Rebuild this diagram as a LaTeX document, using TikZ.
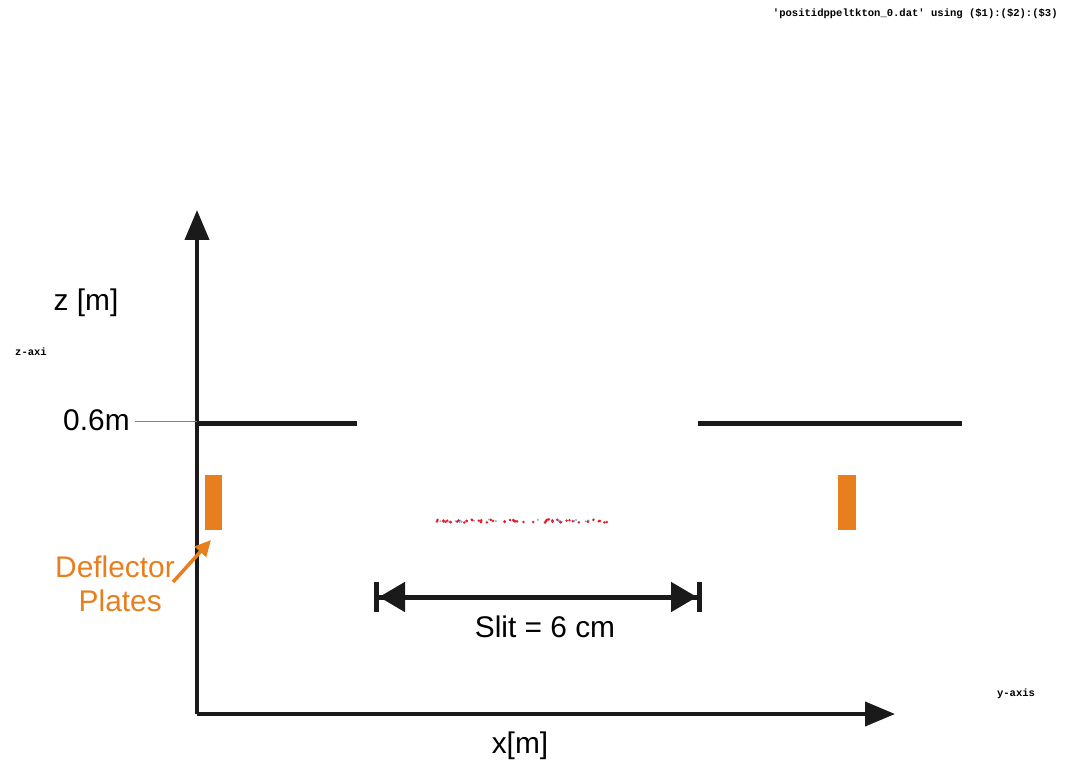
\documentclass[tikz,border=0pt]{standalone}
\usepackage{fontspec}
\setmainfont{Liberation Sans}
\setmonofont{Liberation Mono}
\definecolor{DPOrange}{HTML}{E87F1E}
\definecolor{DPBlack}{HTML}{1A1A1A}
\definecolor{DPRed}{HTML}{E0202A}
\definecolor{DPBlue}{HTML}{7FA8D8}
\usetikzlibrary{positioning,arrows.meta}

\begin{document}
\begin{tikzpicture}[x=0.02cm, y=-0.02cm,
    every node/.style={font=\fontsize{17}{19}\selectfont, inner sep=0pt},
    axis/.style={draw=DPBlack, line width=0.08cm, -{Triangle[length=0.6cm, width=0.48cm]}},
    plate/.style={draw=DPBlack, line width=0.1cm},
    deflector/.style={fill=DPOrange, draw=none},
    gplabel/.style={font=\ttfamily\bfseries\fontsize{6}{7}\selectfont}]
    \useasboundingbox (0,0) rectangle (1077,766);
    % axes
    \coordinate (origin) at (197,714);
    \coordinate (ztip) at (197,210);
    \coordinate (xtip) at (895,714);
    \draw[axis] (origin) -- (ztip);
    \draw[axis] (origin) -- (xtip);
    \node (zlabel) at (86,303) {z [m]};
    \node (xlabel) at (520,746) {x[m]};
    \node[gplabel] (zaxi) at (31,352) {z-axi};
    \node[gplabel] (yaxis) at (1016,694) {y-axis};
    \node[gplabel, anchor=east] (title) at (1058,14) {'positidppeltkton\_0.dat' using (\$1):(\$2):(\$3)};
    % slit plates at 0.6m
    \coordinate (pl1) at (197,423);
    \coordinate (pr1) at (357,423);
    \coordinate (pl2) at (698,423);
    \coordinate (pr2) at (962,423);
    \draw[plate] (pl1) -- (pr1);
    \draw[plate] (pl2) -- (pr2);
    \node[anchor=east] (height) at (130,420) {0.6m};
    \coordinate (lead) at (197,421);
    \draw[gray, line width=0.4pt] (135,421) -- (lead);
    % deflector plates
    \fill[deflector] (205,475) rectangle (222,530);
    \fill[deflector] (838,475) rectangle (856,530);
    \node[text=DPOrange, align=center] (defl) at (115,584) {Deflector\\\hspace*{0.35em}Plates};
    \coordinate (deflarrow) at (211,540);
    \draw[DPOrange, line width=0.07cm, -{Triangle[length=0.32cm, width=0.3cm]}] (173,582) -- (deflarrow);
    % particles
    \pgfmathsetseed{7}
    \foreach \i in {0,...,70}{
      \pgfmathsetmacro{\px}{437+170*rnd}
      \pgfmathsetmacro{\py}{521+1.6*rand}
      \pgfmathtruncatemacro{\pc}{int(4*rnd)}
      \ifnum\pc=0
        \fill[DPBlue] (\px,\py) circle (0.022cm);
      \else
        \fill[DPRed] (\px,\py) circle (0.028cm);
      \fi
    }
    % slit width
    \coordinate (sl) at (374,597);
    \coordinate (sr) at (702,597);
    \draw[DPBlack, line width=0.1cm,
      {Bar[width=0.6cm, line width=0.1cm]Triangle[length=0.52cm, width=0.58cm]}-{Triangle[length=0.52cm, width=0.58cm]Bar[width=0.6cm, line width=0.1cm]}] (sl) -- (sr);
    \node (slit) at (545,627) {Slit = 6 cm};
\end{tikzpicture}
\end{document}
